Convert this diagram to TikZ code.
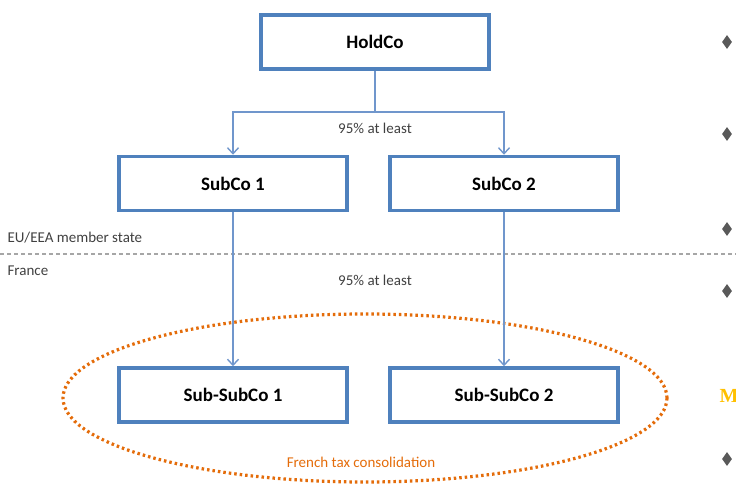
\documentclass[tikz,border=0pt]{standalone}
\usepackage{fontspec}
\setmainfont{Carlito}
\newfontfamily\serifbold{Liberation Serif}
\usetikzlibrary{arrows.meta,shapes.geometric}
\definecolor{boxblue}{HTML}{4F81BD}
\definecolor{linkblue}{HTML}{7096CC}
\definecolor{taxorange}{HTML}{E46C0A}
\definecolor{bulletgray}{HTML}{595959}
\definecolor{sepgray}{HTML}{A6A6A6}
\definecolor{mgold}{HTML}{FFC000}
\tikzset{
  company/.style={draw=boxblue, line width=3.5pt, fill=white, minimum width=228pt,
    minimum height=54pt, font=\fontsize{19}{21}\selectfont\bfseries},
  link/.style={draw=linkblue, line width=1.4pt},
  note/.style={text=black!75, font=\fontsize{15}{17}\selectfont},
  bullet/.style={diamond, fill=bulletgray, inner sep=0pt, minimum width=10pt, minimum height=14pt}
}
\begin{document}
\begin{tikzpicture}[x=1pt, y=-1pt]
    \useasboundingbox (0,0) rectangle (736,484);
    % consolidation perimeter
    \node (perimeter) [draw=taxorange, line width=3.2pt, dash pattern=on 2.5pt off 3pt,
      ellipse, minimum width=604pt, minimum height=168pt] at (365,398) {};
    \node (tax) at (361,462) [text=taxorange, font=\fontsize{15}{17}\selectfont] {French tax consolidation};
    % border
    \coordinate (b_0) at (0,254);
    \coordinate (b_1) at (736,254);
    \draw[sepgray, line width=1.2pt, dash pattern=on 4pt off 3pt] (b_0) -- (b_1);
    \node (eu) [note, anchor=west] at (4,238) {EU/EEA member state};
    \node (fr) [note, anchor=west] at (4,271) {France};
    % companies
    \node (hold) [company] at (375,42) {HoldCo};
    \node (sub_1) [company] at (233,183.5) {SubCo 1};
    \node (sub_2) [company] at (504,183.5) {SubCo 2};
    \node (subsub_1) [company] at (233,395) {Sub-SubCo 1};
    \node (subsub_2) [company] at (504,395) {Sub-SubCo 2};
    \coordinate (split) at (375,112);
    \draw[link] (hold) -- (split);
    \draw[->, >={Straight Barb[length=6pt,width=11pt]}, link] (split) -| (sub_1);
    \draw[->, >={Straight Barb[length=6pt,width=11pt]}, link] (split) -| (sub_2);
    \draw[->, >={Straight Barb[length=6pt,width=11pt]}, link] (sub_1) -- (subsub_1);
    \draw[->, >={Straight Barb[length=6pt,width=11pt]}, link] (sub_2) -- (subsub_2);
    \node (pct_1) [note] at (375,128) {95\% at least};
    \node (pct_2) [note] at (375,280) {95\% at least};
    % slide bullets
    \node (d_1) [bullet] at (727,42) {};
    \node (d_2) [bullet] at (727,134) {};
    \node (d_3) [bullet] at (727,229) {};
    \node (d_4) [bullet] at (727,291) {};
    \node (d_5) [bullet] at (727,459) {};
    \node (m) [anchor=west, text=mgold, font=\serifbold\fontsize{20}{22}\selectfont\bfseries] at (716,396) {M};
  \end{tikzpicture}
\end{document}
